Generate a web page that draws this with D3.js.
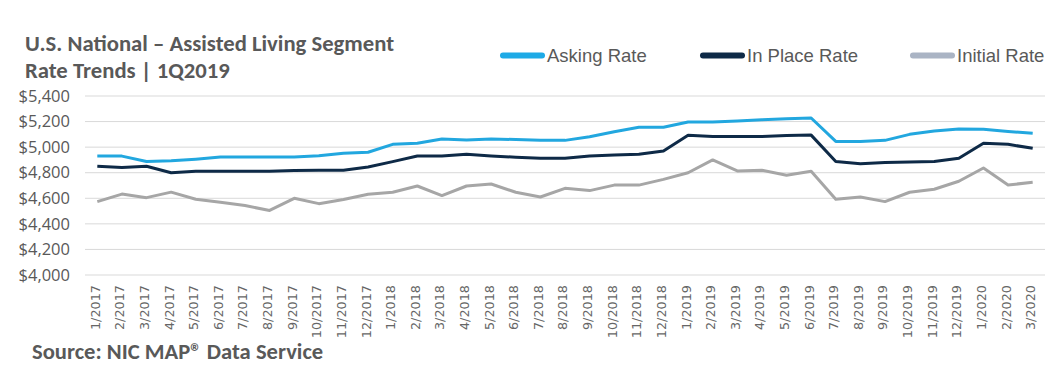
<!DOCTYPE html>
<html lang="en">
<head>
  <meta charset="UTF-8">
  <title>Assisted Living Rate Trends</title>
  <script src="https://d3js.org/d3.v7.min.js"></script>
  <style>
    body { margin: 0; background: #fff; overflow: hidden; }
    .title { font-family: Carlito, Calibri, 'Open Sans', sans-serif; font-weight: bold; fill: #595959; }
    .tick text { fill: #595959; }
  </style>
</head>
<body>
<div id="chart"></div>
<script>
  const months = ["1/2017","2/2017","3/2017","4/2017","5/2017","6/2017","7/2017","8/2017","9/2017","10/2017","11/2017","12/2017",
    "1/2018","2/2018","3/2018","4/2018","5/2018","6/2018","7/2018","8/2018","9/2018","10/2018","11/2018","12/2018",
    "1/2019","2/2019","3/2019","4/2019","5/2019","6/2019","7/2019","8/2019","9/2019","10/2019","11/2019","12/2019",
    "1/2020","2/2020","3/2020"];

  const askingRate = [4930, 4930, 4888, 4894, 4906, 4922, 4922, 4922, 4922, 4932, 4952, 4960,
    5022, 5030, 5063, 5056, 5063, 5060, 5053, 5053, 5082, 5121, 5155, 5155,
    5197, 5196, 5204, 5214, 5222, 5228, 5045, 5045, 5053, 5100, 5126, 5142,
    5140, 5122, 5108];

  const inPlaceRate = [4850, 4840, 4850, 4800, 4811, 4812, 4812, 4812, 4818, 4819, 4820, 4845,
    4887, 4931, 4931, 4944, 4931, 4921, 4913, 4913, 4931, 4939, 4944, 4970,
    5093, 5083, 5083, 5083, 5092, 5094, 4887, 4871, 4879, 4884, 4887, 4913,
    5030, 5022, 4991];

  const initialRate = [4574, 4633, 4605, 4648, 4592, 4569, 4543, 4505, 4600, 4558, 4590, 4632,
    4647, 4696, 4621, 4696, 4712, 4647, 4610, 4678, 4660, 4703, 4703, 4748,
    4800, 4900, 4814, 4819, 4780, 4811, 4592, 4610, 4574, 4647, 4671, 4733,
    4837, 4704, 4725];

  const yTicks = [4000, 4200, 4400, 4600, 4800, 5000, 5200, 5400];

  const seriesNames = ["Asking Rate", "In Place Rate", "Initial Rate"];
  const seriesColors = ["#22a7df", "#0e2a47", "#a6a6a6"];
  const legendColors = ["#1eaae6", "#0e2a47", "#aab4c4"];
  const series = [askingRate, inPlaceRate, initialRate];

  const W = 1062, H = 369;
  const plot = { left: 85, right: 1045, top: 96, bottom: 275 };

  const svg = d3.select("#chart").append("svg")
    .attr("width", W).attr("height", H);

  // titles
  svg.append("text").attr("class", "title")
    .attr("x", 25).attr("y", 51).style("font-size", "22.7px")
    .text("U.S. National \u2013 Assisted Living Segment");
  svg.append("text").attr("class", "title")
    .attr("x", 25).attr("y", 78).style("font-size", "22.7px")
    .text("Rate Trends | 1Q2019");
  svg.append("text").attr("class", "title")
    .attr("x", 32).attr("y", 359).style("font-size", "22.6px")
    .text("Source: NIC MAP\u00AE Data Service");

  const x = d3.scaleBand()
    .domain(months)
    .range([plot.left, plot.right]);

  const y = d3.scaleLinear()
    .domain([4000, 5400])
    .range([plot.bottom, plot.top]);

  // grid lines
  svg.append("g")
    .selectAll("line")
    .data(yTicks)
    .join("line")
    .attr("x1", plot.left).attr("x2", plot.right)
    .attr("y1", d => y(d)).attr("y2", d => y(d))
    .attr("stroke", "#d9d9d9").attr("stroke-width", 1);

  // y axis labels
  const yAxis = svg.append("g")
    .attr("transform", `translate(${plot.left - 15},0)`)
    .call(d3.axisLeft(y).tickValues(yTicks).tickSize(0).tickFormat(d => "$" + d3.format(",")(d)));
  yAxis.select(".domain").remove();
  yAxis.selectAll("text")
    .style("font-family", "'Open Sans', sans-serif")
    .style("font-size", "16.5px")
    .attr("x", 0);

  // x axis labels
  const xAxis = svg.append("g")
    .attr("transform", `translate(0,${plot.bottom})`)
    .call(d3.axisBottom(x).tickSize(0));
  xAxis.select(".domain").remove();
  xAxis.selectAll("text")
    .style("font-family", "'DejaVu Sans', sans-serif")
    .style("font-size", "12.8px")
    .style("fill", "#666")
    .attr("transform", "rotate(-90)")
    .attr("x", -10)
    .attr("y", -2)
    .attr("dy", "0.35em")
    .style("text-anchor", "end");

  // lines
  const line = d3.line()
    .x((d, i) => x(months[i]) + x.bandwidth() / 2)
    .y(d => y(d));

  [2, 1, 0].forEach(k => {
    svg.append("path")
      .datum(series[k])
      .attr("fill", "none")
      .attr("stroke", seriesColors[k])
      .attr("stroke-width", 3)
      .attr("stroke-linejoin", "round")
      .attr("d", line);
  });

  // legend
  const legendX = [500, 700, 910];
  const legend = svg.append("g");
  seriesNames.forEach((name, k) => {
    legend.append("line")
      .attr("x1", legendX[k] + 3).attr("x2", legendX[k] + 42)
      .attr("y1", 55.5).attr("y2", 55.5)
      .attr("stroke", legendColors[k])
      .attr("stroke-width", 6)
      .attr("stroke-linecap", "round");
    legend.append("text")
      .attr("x", legendX[k] + 47).attr("y", 61.5)
      .style("font-family", "'Liberation Sans', Arial, sans-serif")
      .style("font-size", "18.5px")
      .style("fill", "#595959")
      .text(name);
  });
</script>
</body>
</html>
